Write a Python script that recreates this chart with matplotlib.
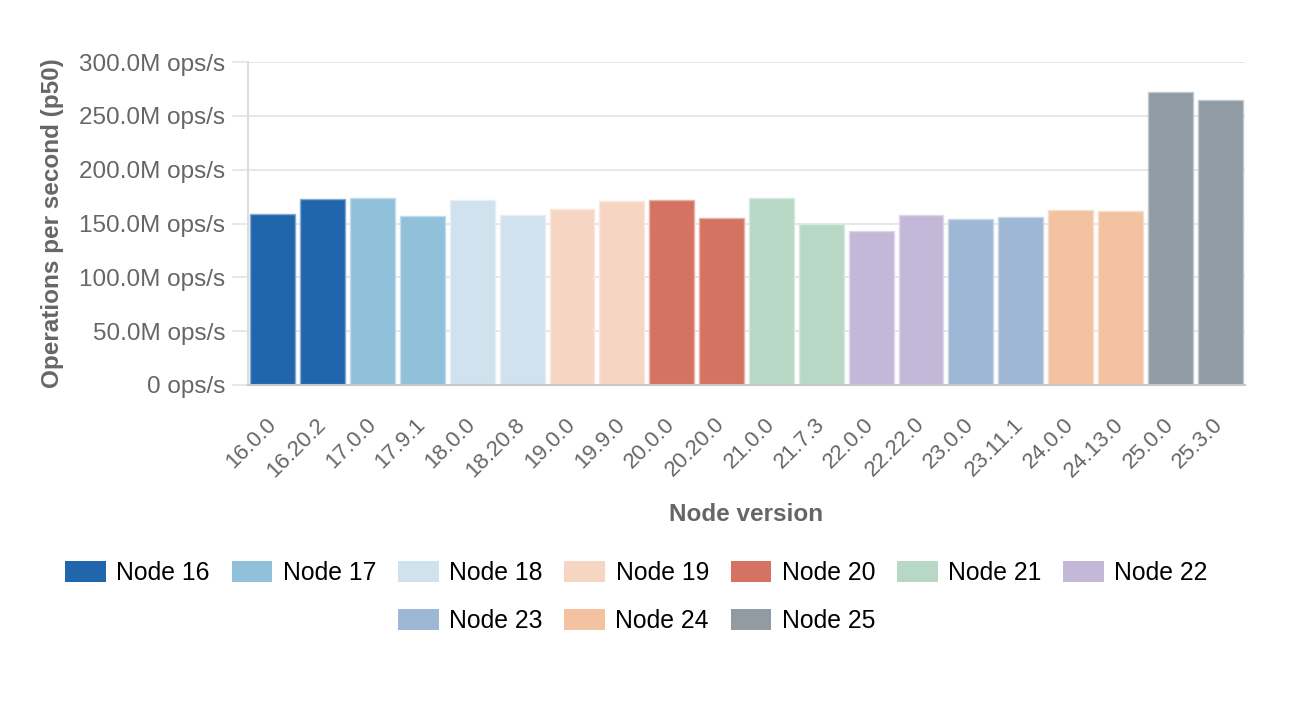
import matplotlib
matplotlib.use("Agg")
import matplotlib.pyplot as plt
import matplotlib.colors as mcolors
from matplotlib.patches import Patch
from matplotlib.ticker import FuncFormatter, MultipleLocator

plt.rcParams["font.family"] = ["Liberation Sans", "DejaVu Sans"]

# p50 throughput per Node version, in millions of ops/s
versions = ["16.0.0", "16.20.2", "17.0.0", "17.9.1", "18.0.0", "18.20.8",
            "19.0.0", "19.9.0", "20.0.0", "20.20.0", "21.0.0", "21.7.3",
            "22.0.0", "22.22.0", "23.0.0", "23.11.1", "24.0.0", "24.13.0",
            "25.0.0", "25.3.0"]
ops_m = [158.5, 172.5, 173.7, 157.0, 171.5, 158.2,
         163.2, 171.2, 171.8, 154.8, 173.7, 149.5,
         143.0, 157.6, 153.9, 156.3, 162.2, 161.9,
         271.8, 264.4]

majors = ["16", "17", "18", "19", "20", "21", "22", "23", "24", "25"]
major_colors = ["#2166ac", "#90c0da", "#cfe2ed", "#f6d6c3", "#d57363",
                "#b8d8c6", "#c4b8d8", "#9eb7d5", "#f2c2a1", "#909ba4"]

GRID = "#e3e3e8"
TXT = "#666666"

cmap = dict(zip(majors, major_colors))
bar_colors = [cmap[v.split(".")[0]] for v in versions]


def lighten(c, f=0.45):
    r, g, b = mcolors.to_rgb(c)
    return (r + (1 - r) * f, g + (1 - g) * f, b + (1 - b) * f)


fig = plt.figure(figsize=(12.94, 7.06), dpi=100)
ax = fig.add_axes([248 / 1294, 1 - 385 / 706, (1245 - 248) / 1294, (385 - 62) / 706])

x = range(len(versions))
ax.bar(x, ops_m, width=0.9, color=bar_colors,
       edgecolor=[lighten(c) for c in bar_colors], linewidth=1.0, zorder=3)

ax.set_xlim(-0.5, len(versions) - 0.5)
ax.set_ylim(0, 300)
ax.yaxis.set_major_locator(MultipleLocator(50))
ax.yaxis.set_major_formatter(FuncFormatter(
    lambda v, _: "0 ops/s" if v == 0 else f"{v:.1f}M ops/s"))
ax.grid(axis="y", color=GRID, lw=1.2, zorder=0)

for s in ("top", "right"):
    ax.spines[s].set_visible(False)
ax.spines["left"].set_color("#dddddd")
ax.spines["left"].set_linewidth(1.5)
ax.spines["bottom"].set_color("#c8c8c8")
ax.spines["bottom"].set_linewidth(1.5)
ax.spines["bottom"].set_zorder(4)

ax.tick_params(axis="y", length=11.5, width=1.2, color=GRID, pad=5,
               labelsize=17.5, labelcolor=TXT)
ax.tick_params(axis="x", length=0, pad=26, labelsize=16, labelcolor=TXT)
ax.set_xticks(list(x))
ax.set_xticklabels(versions, rotation=45, ha="right", va="center",
                   rotation_mode="anchor")

ax.set_xlabel("Node version", fontsize=17.5, fontweight="bold", color=TXT,
              labelpad=16)
ax.set_ylabel("Operations per second (p50)", fontsize=17.5, fontweight="bold",
              color=TXT, labelpad=10.5)

handles = [Patch(facecolor=c, edgecolor="none") for c in major_colors]
labels = [f"Node {m}" for m in majors]
leg_kw = dict(frameon=False, fontsize=17.8, handlelength=1.65, handleheight=0.95,
              handletextpad=0.42, columnspacing=0.88, borderaxespad=0,
              loc="center")
fig.legend(handles[:7], labels[:7], ncol=7,
           bbox_to_anchor=(636.5 / 1294, 1 - 573 / 706), **leg_kw)
fig.legend(handles[7:], labels[7:], ncol=3,
           bbox_to_anchor=(636.5 / 1294, 1 - 621 / 706), **leg_kw)

fig.savefig("out.png", dpi=100)
